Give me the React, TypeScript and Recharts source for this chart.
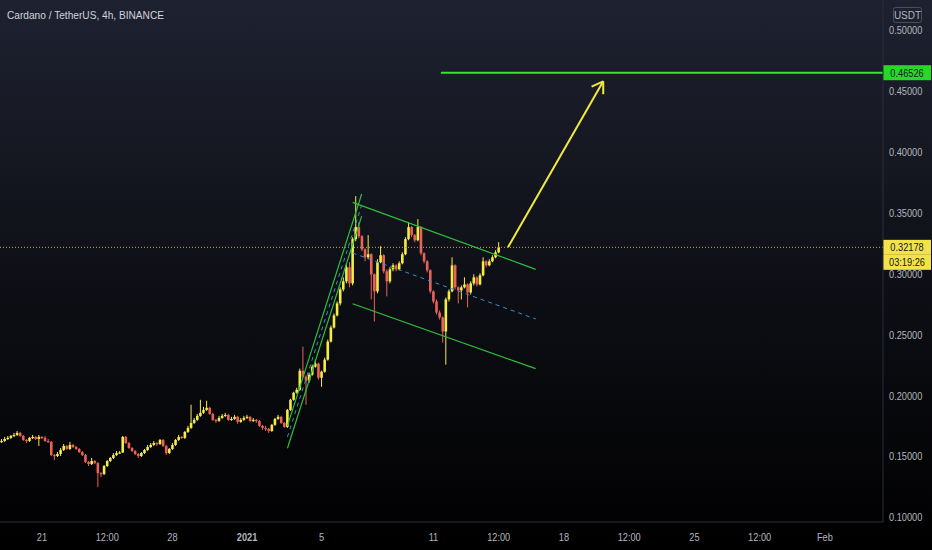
import { Bar, ComposedChart, ReferenceLine, XAxis, YAxis } from "recharts";

// time is counted in 4h candles from Dec 21 00:00
const T_MIN = -13.52;
const T_MAX = 270.7;
const P_MIN = 0.0961;
const P_MAX = 0.525;
const FIRST_T = -13;

const UP = "#f5ec45";
const DOWN = "#ea6259";
const AXIS_TEXT = "#b2b5be";

// [open, high, low, close]
const candles: [number, number, number, number][] = [
  [0.1619, 0.1643, 0.161, 0.1627], [0.1627, 0.166, 0.1619, 0.1643], [0.1643, 0.1668, 0.1635, 0.1652],
  [0.1652, 0.1676, 0.1643, 0.1668], [0.1668, 0.1693, 0.166, 0.1676], [0.1676, 0.1709, 0.1668, 0.1693],
  [0.1693, 0.1701, 0.166, 0.1668], [0.1668, 0.1676, 0.1627, 0.1635], [0.1635, 0.1643, 0.161, 0.1627],
  [0.1627, 0.166, 0.1619, 0.1652], [0.1652, 0.1676, 0.1643, 0.166], [0.166, 0.1668, 0.1635, 0.1643],
  [0.1643, 0.1676, 0.1586, 0.166], [0.166, 0.1668, 0.1643, 0.1652], [0.1652, 0.1668, 0.1619, 0.1627],
  [0.1627, 0.1643, 0.161, 0.1619], [0.1619, 0.1627, 0.1503, 0.1511], [0.1511, 0.152, 0.147, 0.1503],
  [0.1503, 0.1536, 0.1495, 0.152], [0.152, 0.1569, 0.1503, 0.1553], [0.1553, 0.1602, 0.1544, 0.1586],
  [0.1586, 0.1594, 0.1553, 0.1561], [0.1561, 0.1619, 0.1553, 0.1594], [0.1594, 0.1602, 0.1569, 0.1577],
  [0.1577, 0.1586, 0.1553, 0.1561], [0.1561, 0.1569, 0.1528, 0.1536], [0.1536, 0.1544, 0.1503, 0.1511],
  [0.1511, 0.152, 0.1445, 0.1454], [0.1454, 0.1462, 0.1421, 0.1437], [0.1437, 0.1487, 0.1429, 0.1462],
  [0.1462, 0.147, 0.1437, 0.1445], [0.1445, 0.1454, 0.1247, 0.1363], [0.1363, 0.1371, 0.133, 0.1355],
  [0.1355, 0.1429, 0.1346, 0.1421], [0.1421, 0.147, 0.1413, 0.1462], [0.1462, 0.1495, 0.1454, 0.1487],
  [0.1487, 0.1528, 0.1478, 0.1511], [0.1511, 0.1544, 0.1503, 0.1528], [0.1528, 0.1544, 0.152, 0.1532],
  [0.1532, 0.1668, 0.1528, 0.166], [0.166, 0.1668, 0.1602, 0.161], [0.161, 0.1619, 0.1561, 0.1569],
  [0.1569, 0.1577, 0.1536, 0.1544], [0.1544, 0.1553, 0.1511, 0.152], [0.152, 0.1528, 0.1487, 0.1503],
  [0.1503, 0.1536, 0.1495, 0.1528], [0.1528, 0.1561, 0.152, 0.1553], [0.1553, 0.1594, 0.1544, 0.1577],
  [0.1577, 0.161, 0.1569, 0.1594], [0.1594, 0.1627, 0.1586, 0.161], [0.161, 0.1619, 0.1586, 0.1602],
  [0.1602, 0.1643, 0.1594, 0.1635], [0.1635, 0.1643, 0.1577, 0.1586], [0.1586, 0.1594, 0.1511, 0.1528],
  [0.1528, 0.1569, 0.152, 0.1561], [0.1561, 0.161, 0.1553, 0.1594], [0.1594, 0.1643, 0.1586, 0.1635],
  [0.1635, 0.1676, 0.1627, 0.166], [0.166, 0.1668, 0.1643, 0.1652], [0.1652, 0.1709, 0.1643, 0.1701],
  [0.1701, 0.1751, 0.1693, 0.1734], [0.1734, 0.1924, 0.1726, 0.1775], [0.1775, 0.1816, 0.1767, 0.18],
  [0.18, 0.1849, 0.1792, 0.1833], [0.1833, 0.1965, 0.1825, 0.1858], [0.1858, 0.1907, 0.1849, 0.1882],
  [0.1882, 0.1957, 0.1874, 0.1899], [0.1899, 0.1907, 0.1841, 0.1849], [0.1849, 0.1858, 0.1792, 0.18],
  [0.18, 0.1808, 0.1775, 0.1792], [0.1792, 0.1833, 0.1784, 0.1816], [0.1816, 0.1849, 0.1808, 0.1833],
  [0.1833, 0.1858, 0.1825, 0.1841], [0.1841, 0.1849, 0.1792, 0.18], [0.18, 0.1825, 0.1792, 0.1808],
  [0.1808, 0.1841, 0.18, 0.1825], [0.1825, 0.1833, 0.1767, 0.1784], [0.1784, 0.1816, 0.1775, 0.18],
  [0.18, 0.1833, 0.1792, 0.1816], [0.1816, 0.1841, 0.1808, 0.1825], [0.1825, 0.1833, 0.1784, 0.1792],
  [0.1792, 0.1816, 0.1784, 0.18], [0.18, 0.1808, 0.1775, 0.1792], [0.1792, 0.18, 0.1742, 0.1751],
  [0.1751, 0.1759, 0.1718, 0.1734], [0.1734, 0.1751, 0.1709, 0.1726], [0.1726, 0.1734, 0.1693, 0.1709],
  [0.1709, 0.1767, 0.1701, 0.1759], [0.1759, 0.1816, 0.1751, 0.1808], [0.1808, 0.1841, 0.18, 0.1825],
  [0.1825, 0.1833, 0.1767, 0.1775], [0.1775, 0.1784, 0.1734, 0.1742], [0.1742, 0.189, 0.1734, 0.1882],
  [0.1882, 0.1974, 0.1874, 0.1965], [0.1965, 0.2031, 0.1957, 0.2023], [0.2023, 0.2064, 0.2015, 0.2047],
  [0.2047, 0.2221, 0.2039, 0.2204], [0.2204, 0.2402, 0.2146, 0.2155], [0.2155, 0.2163, 0.1924, 0.2122],
  [0.2122, 0.2188, 0.2105, 0.2171], [0.2171, 0.2254, 0.2163, 0.2237], [0.2237, 0.2295, 0.2229, 0.2262],
  [0.2262, 0.227, 0.213, 0.2146], [0.2146, 0.2204, 0.2072, 0.2196], [0.2196, 0.2311, 0.2188, 0.2295],
  [0.2295, 0.246, 0.2287, 0.2443], [0.2443, 0.2575, 0.2435, 0.2559], [0.2559, 0.2674, 0.2551, 0.2658],
  [0.2658, 0.2773, 0.265, 0.2757], [0.2757, 0.2889, 0.274, 0.2872], [0.2872, 0.2971, 0.2856, 0.2938],
  [0.2938, 0.3087, 0.2922, 0.3054], [0.3054, 0.3095, 0.2889, 0.2922], [0.2922, 0.3301, 0.2905, 0.3285],
  [0.3285, 0.3639, 0.3268, 0.3384], [0.3384, 0.3425, 0.3293, 0.3309], [0.3309, 0.3318, 0.3186, 0.3202],
  [0.3202, 0.321, 0.3103, 0.3136], [0.3136, 0.3318, 0.312, 0.3161], [0.3161, 0.3169, 0.279, 0.2996],
  [0.2996, 0.3004, 0.2608, 0.2856], [0.2856, 0.312, 0.284, 0.3095], [0.3095, 0.3227, 0.3087, 0.3153],
  [0.3153, 0.3161, 0.3004, 0.3021], [0.3021, 0.3037, 0.2815, 0.2938], [0.2938, 0.3054, 0.2922, 0.3037],
  [0.3037, 0.3087, 0.3021, 0.307], [0.307, 0.3078, 0.3021, 0.3037], [0.3037, 0.3103, 0.3029, 0.3087],
  [0.3087, 0.3177, 0.3078, 0.3161], [0.3161, 0.3301, 0.3153, 0.3285], [0.3285, 0.3425, 0.3276, 0.3384],
  [0.3384, 0.3392, 0.3301, 0.3318], [0.3318, 0.3326, 0.326, 0.3276], [0.3276, 0.345, 0.3268, 0.3384],
  [0.3384, 0.3392, 0.3153, 0.3169], [0.3169, 0.3177, 0.3087, 0.3103], [0.3103, 0.3112, 0.3012, 0.3029],
  [0.3029, 0.3037, 0.284, 0.2856], [0.2856, 0.2864, 0.2757, 0.2773], [0.2773, 0.279, 0.2666, 0.2682],
  [0.2682, 0.2699, 0.2625, 0.2641], [0.2641, 0.265, 0.2435, 0.2526], [0.2526, 0.2806, 0.2254, 0.279],
  [0.279, 0.2872, 0.2773, 0.2856], [0.2856, 0.3136, 0.2848, 0.307], [0.307, 0.3078, 0.2873, 0.2889],
  [0.2889, 0.2897, 0.2757, 0.2864], [0.2864, 0.2905, 0.279, 0.2889], [0.2889, 0.2971, 0.288, 0.2913],
  [0.2913, 0.2922, 0.2724, 0.2847], [0.2847, 0.2938, 0.2831, 0.2922], [0.2922, 0.2996, 0.2905, 0.2971],
  [0.2971, 0.2979, 0.2897, 0.2913], [0.2913, 0.3004, 0.2905, 0.2988], [0.2988, 0.3136, 0.2979, 0.3103],
  [0.3103, 0.3112, 0.3054, 0.307], [0.307, 0.312, 0.3062, 0.3103], [0.3103, 0.3153, 0.3095, 0.3136],
  [0.3136, 0.3194, 0.3128, 0.3177], [0.3177, 0.326, 0.3169, 0.3218],
];

const timeTicks = [0, 21, 42, 66, 90, 126, 147, 168, 189, 210, 231, 252];
const timeLabels = ["21", "12:00", "28", "2021", "5", "11", "12:00", "18", "12:00", "25", "12:00", "Feb"];
const priceTicks = [0.1, 0.15, 0.2, 0.25, 0.3, 0.35, 0.4, 0.45, 0.5];

const lastPrice = 0.32178;
const countdown = "03:19:26";
const targetPrice = 0.46526;
const targetStart = 128.4;

// drawings: [t, price] pairs
const poleUpper = [[79, 0.1751], [102.9, 0.3656]];
const poleMid = [[79, 0.166], [102.9, 0.3565]];
const poleLower = [[79, 0.1567], [102.9, 0.3474]];
const flagUpper = [[100, 0.3587], [158.9, 0.3037]];
const flagMid = [[100, 0.3171], [158.9, 0.2629]];
const flagLower = [[100, 0.2754], [158.9, 0.2221]];
const arrowShaft = [[150, 0.3219], [180.65, 0.4582]];
const arrowWingA = [[176.9, 0.4538], [180.65, 0.4582]];
const arrowWingB = [[180.65, 0.4476], [180.65, 0.4582]];

const rows = candles.map((c, i) => ({ t: FIRST_T + i, open: c[0], high: c[1], low: c[2], close: c[3] }));

const seg = (pts: number[][]) => pts.map(([x, y]) => ({ x, y }));

function Candle(props: any) {
  const { x, y, width, height, payload } = props;
  if (x == null || !payload) return null;
  const { open, high, low, close } = payload;
  const top = Math.min(y, y + height);
  const h = Math.abs(height);
  const span = high - low;
  const toY = (v: number) => (span > 0 ? top + ((high - v) / span) * h : top);
  const color = close >= open ? UP : DOWN;
  const cx = x + width / 2;
  const bTop = toY(Math.max(open, close));
  const bBot = toY(Math.min(open, close));
  return (
    <g>
      <line x1={cx} x2={cx} y1={top} y2={top + h} stroke={color} strokeWidth={1} />
      <rect x={cx - 1.3} y={bTop} width={2.6} height={Math.max(bBot - bTop, 1.2)} fill={color} />
    </g>
  );
}

function TimeTick(props: any) {
  const { x, y, payload } = props;
  const label = timeLabels[timeTicks.indexOf(payload.value)];
  return (
    <text
      transform={`translate(${x},${y + 19}) scale(0.84,1)`}
      textAnchor="middle"
      fill={AXIS_TEXT}
      fontSize={11}
      fontWeight={label === "2021" ? 700 : 400}
    >
      {label}
    </text>
  );
}

function PriceTick(props: any) {
  const { x, y, payload } = props;
  return (
    <text transform={`translate(${x + 6},${y + 4}) scale(0.84,1)`} fill={AXIS_TEXT} fontSize={11}>
      {payload.value.toFixed(5)}
    </text>
  );
}

function Tag({ x, y, text, fill }: { x: number; y: number; text: string; fill: string }) {
  return (
    <g>
      <rect x={x} y={y - 7.5} width={48} height={15} fill={fill} />
      <text transform={`translate(${x + 24},${y + 4}) scale(0.84,1)`} textAnchor="middle" fontSize={11} fill="#131722">
        {text}
      </text>
    </g>
  );
}

export default function App() {
  return (
    <div
      style={{
        position: "fixed",
        left: 0,
        top: 0,
        width: 932,
        height: 550,
        overflow: "hidden",
        background: "linear-gradient(180deg, #1e2130 0%, #0d0e14 55%, #000 100%)",
        fontFamily: "'Liberation Sans', Arial, sans-serif",
      }}
    >
      <ComposedChart width={932} height={550} data={rows} margin={{ top: 0, right: 0, bottom: 0, left: 0 }}>
        <XAxis
          type="number"
          dataKey="t"
          domain={[T_MIN, T_MAX]}
          allowDataOverflow
          ticks={timeTicks}
          interval={0}
          height={28}
          tickSize={0}
          tickMargin={0}
          tickLine={false}
          axisLine={{ stroke: "#2a2e39" }}
          tick={<TimeTick />}
        />
        <YAxis
          orientation="right"
          width={49}
          domain={[P_MIN, P_MAX]}
          allowDataOverflow
          ticks={priceTicks}
          interval={0}
          tickSize={0}
          tickMargin={0}
          tickLine={false}
          axisLine={{ stroke: "#2a2e39" }}
          tick={<PriceTick />}
        />
        <ReferenceLine
          y={lastPrice}
          stroke="#c9a544"
          strokeDasharray="1 2"
          label={(p: any) => (
            <g>
              <Tag x={p.viewBox.x + p.viewBox.width} y={p.viewBox.y} text={lastPrice.toFixed(5)} fill="#f3e34a" />
              <Tag x={p.viewBox.x + p.viewBox.width} y={p.viewBox.y + 15} text={countdown} fill="#f3e34a" />
            </g>
          )}
        />
        <Bar dataKey={(d: any) => [d.low, d.high]} barSize={3} shape={<Candle />} isAnimationActive={false} />
        <ReferenceLine segment={seg(poleUpper)} stroke="#2fbf3a" strokeWidth={1.2} ifOverflow="visible" />
        <ReferenceLine segment={seg(poleLower)} stroke="#2fbf3a" strokeWidth={1.2} ifOverflow="visible" />
        <ReferenceLine segment={seg(poleMid)} stroke="#3a8fd6" strokeDasharray="4 4" ifOverflow="visible" />
        <ReferenceLine segment={seg(flagUpper)} stroke="#2fbf3a" strokeWidth={1.2} ifOverflow="visible" />
        <ReferenceLine segment={seg(flagLower)} stroke="#2fbf3a" strokeWidth={1.2} ifOverflow="visible" />
        <ReferenceLine segment={seg(flagMid)} stroke="#3a8fd6" strokeDasharray="4 4" ifOverflow="visible" />
        <ReferenceLine
          segment={[{ x: targetStart, y: targetPrice }, { x: T_MAX, y: targetPrice }]}
          stroke="#3ee03a"
          strokeWidth={2}
          ifOverflow="visible"
          label={(p: any) => (
            <Tag x={p.viewBox.x + p.viewBox.width} y={p.viewBox.y} text={targetPrice.toFixed(5)} fill="#25d925" />
          )}
        />
        <ReferenceLine segment={seg(arrowShaft)} stroke="#f2ea3c" strokeWidth={2} ifOverflow="visible" />
        <ReferenceLine segment={seg(arrowWingA)} stroke="#f2ea3c" strokeWidth={2} ifOverflow="visible" />
        <ReferenceLine segment={seg(arrowWingB)} stroke="#f2ea3c" strokeWidth={2} ifOverflow="visible" />
      </ComposedChart>
      <svg width={932} height={30} style={{ position: "absolute", left: 0, top: 0, pointerEvents: "none" }}>
        <text x={7} y={19} fontSize={11} fill="#d1d4dc" textLength={157} lengthAdjust="spacingAndGlyphs">
          Cardano / TetherUS, 4h, BINANCE
        </text>
        <rect x={893.5} y={7.5} width={28} height={15} rx={2} fill="none" stroke="#4a4e5a" />
        <text x={907.5} y={18.5} fontSize={10} fill={AXIS_TEXT} textAnchor="middle">
          USDT
        </text>
      </svg>
    </div>
  );
}
